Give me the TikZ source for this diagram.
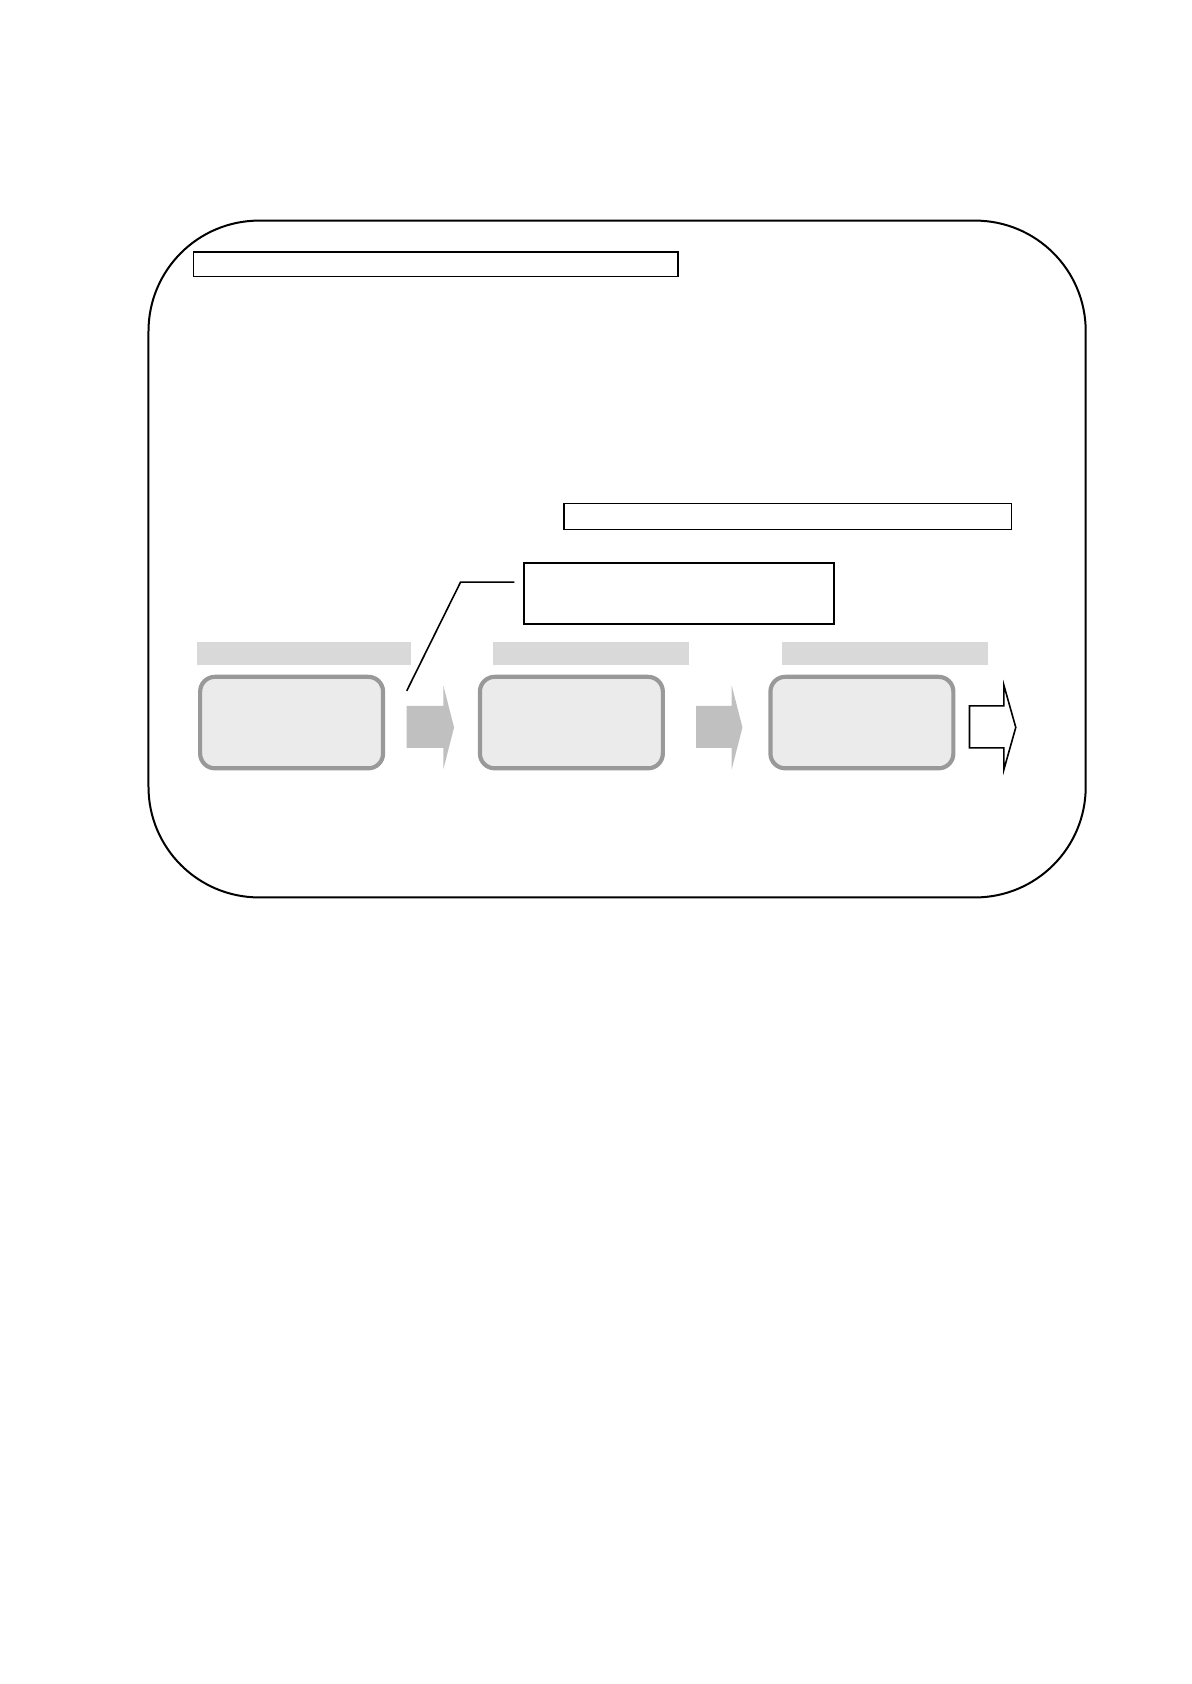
\documentclass[tikz,border=0pt]{standalone}
\usepackage{xcolor}
\usepackage{tikz}

\definecolor{barfill}{HTML}{D9D9D9}
\definecolor{stagefill}{HTML}{EBEBEB}
\definecolor{stageline}{HTML}{999999}
\definecolor{arrowfill}{HTML}{C0C0C0}
\newcommand{\un}{0.01897cm}

\begin{document}
\begin{tikzpicture}[x=\un, y=-\un,
    every node/.style={inner sep=0pt, outer sep=0pt},
    plainbox/.style={draw, line width=0.8pt, fill=white},
    labelbar/.style={fill=barfill, minimum height=21*\un},
    stagebox/.style={draw=stageline, line width=2.1pt, fill=stagefill, rounded corners=0.26cm,
        minimum width=170*\un, minimum height=85*\un}]
    \useasboundingbox (0,0) rectangle (1107,1565);
    \draw[line width=1pt, rounded corners=1.95cm] (138,205) rectangle (1009,834);

    \node[plainbox, minimum width=450*\un, minimum height=23*\un] (title) at (405,245.5) {};
    \node[plainbox, minimum width=416*\un, minimum height=24*\un] (subtitle) at (732,480) {};
    \node[plainbox, line width=1.1pt, minimum width=288*\un, minimum height=57*\un] (callout) at (631,551.5) {};

    \node[labelbar, minimum width=199*\un] (bar1) at (282.5,607.5) {};
    \node[labelbar, minimum width=182*\un] (bar2) at (549,607.5) {};
    \node[labelbar, minimum width=191*\un] (bar3) at (822.5,607.5) {};

    \node[stagebox] (stage1) at (271,671.5) {};
    \node[stagebox] (stage2) at (531,671.5) {};
    \node[stagebox] (stage3) at (801,671.5) {};

    % callout pointer
    \coordinate (calloutend) at (478,541);
    \coordinate (kink) at (428,541);
    \coordinate (pointer) at (378,642);
    \draw[line width=0.8pt] (calloutend) -- (kink) -- (pointer);

    % block arrows
    \fill[arrowfill] (378,656) -- (412,656) -- (412,637) -- (422,676) -- (412,715) -- (412,695) -- (378,695) -- cycle;
    \fill[arrowfill] (647,656) -- (680,656) -- (680,637) -- (690,676) -- (680,715) -- (680,695) -- (647,695) -- cycle;
    \draw[line width=0.8pt, fill=white] (901,656) -- (933,656) -- (933,637) -- (944,676) -- (933,715) -- (933,695) -- (901,695) -- cycle;
\end{tikzpicture}
\end{document}
